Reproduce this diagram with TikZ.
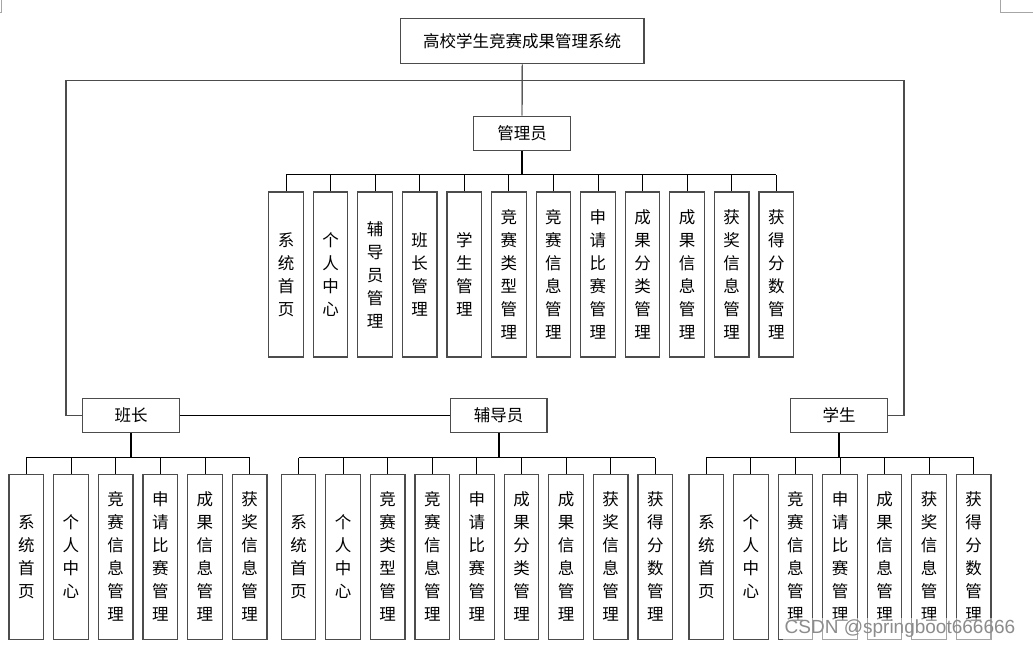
\documentclass[tikz,border=0pt]{standalone}
\usepackage{fontspec}
\newfontfamily\cjk{Noto Sans CJK SC}
\newfontfamily\wmfont{Liberation Sans}
\usetikzlibrary{calc}

\begin{document}
\begin{tikzpicture}[x=1pt,y=-1pt,
  box/.style={draw=black!70,line width=1.2pt,fill=white,inner sep=0pt,align=center,
    font=\cjk\fontsize{16.5}{23}\selectfont},
  head/.style={box,minimum width=96.6pt,minimum height=34.4pt},
  item/.style={box,minimum width=34.6pt,minimum height=165pt},
  link/.style={line width=0.9pt},
  stem/.style={line width=1.8pt},
  frame/.style={draw=black!70,line width=1.2pt},
  cropmark/.style={draw=black!35,line width=1pt}]
\useasboundingbox (0,0) rectangle (1033,650);

\coordinate (lt) at (66,80.5);
\coordinate (rt) at (904,80.5);
\coordinate (abus) at (0,174.7);
\coordinate (bbus) at (0,457.7);

\node[box,minimum width=243.7pt,minimum height=45pt] (sys) at (522.2,41.2) {高校学生竞赛成果管理系统};
\node[head] (admin) at (522,133.5) {管理员};
\node[head] (monitor) at (131,415.3) {班长};
\node[head] (tutor) at (498.7,415.3) {辅导员};
\node[head] (student) at (839.1,415.3) {学生};

\draw[link] (sys.south) -- (admin.north);
\draw[frame] (monitor.west) -| (lt) -- (rt) |- (student.east);
\draw[link] (monitor.east) -- (tutor.west);

% admin
\foreach \lbl [count=\i] in {{系\\统\\首\\页},{个\\人\\中\\心},{辅\\导\\员\\管\\理},{班\\长\\管\\理},{学\\生\\管\\理},{竞\\赛\\类\\型\\管\\理},{竞\\赛\\信\\息\\管\\理},{申\\请\\比\\赛\\管\\理},{成\\果\\分\\类\\管\\理},{成\\果\\信\\息\\管\\理},{获\\奖\\信\\息\\管\\理},{获\\得\\分\\数\\管\\理}}
  \node[item] (a\i) at ({286+(\i-1)*44.57},274.5) {\lbl};
\draw[stem] (admin.south) -- (admin.south |- abus);
\draw[link] (a1.north |- abus) -- (a12.north |- abus);
\foreach \i in {1,...,12}
  \draw[link] (a\i.north) -- (a\i.north |- abus);

% monitor
\foreach \lbl [count=\i] in {{系\\统\\首\\页},{个\\人\\中\\心},{竞\\赛\\信\\息\\管\\理},{申\\请\\比\\赛\\管\\理},{成\\果\\信\\息\\管\\理},{获\\奖\\信\\息\\管\\理}}
  \node[item] (b\i) at ({26.3+(\i-1)*44.67},556.8) {\lbl};
\draw[stem] (monitor.south) -- (monitor.south |- bbus);
\draw[link] (b1.north |- bbus) -- (b6.north |- bbus);
\foreach \i in {1,...,6}
  \draw[link] (b\i.north) -- (b\i.north |- bbus);

% tutor
\foreach \lbl [count=\i] in {{系\\统\\首\\页},{个\\人\\中\\心},{竞\\赛\\类\\型\\管\\理},{竞\\赛\\信\\息\\管\\理},{申\\请\\比\\赛\\管\\理},{成\\果\\分\\类\\管\\理},{成\\果\\信\\息\\管\\理},{获\\奖\\信\\息\\管\\理},{获\\得\\分\\数\\管\\理}}
  \node[item] (c\i) at ({298.5+(\i-1)*44.6},556.8) {\lbl};
\draw[stem] (tutor.south) -- (tutor.south |- bbus);
\draw[link] (c1.north |- bbus) -- (c9.north |- bbus);
\foreach \i in {1,...,9}
  \draw[link] (c\i.north) -- (c\i.north |- bbus);

% student
\foreach \lbl [count=\i] in {{系\\统\\首\\页},{个\\人\\中\\心},{竞\\赛\\信\\息\\管\\理},{申\\请\\比\\赛\\管\\理},{成\\果\\信\\息\\管\\理},{获\\奖\\信\\息\\管\\理},{获\\得\\分\\数\\管\\理}}
  \node[item] (d\i) at ({706.3+(\i-1)*44.57},556.8) {\lbl};
\draw[stem] (student.south) -- (student.south |- bbus);
\draw[link] (d1.north |- bbus) -- (d7.north |- bbus);
\foreach \i in {1,...,7}
  \draw[link] (d\i.north) -- (d\i.north |- bbus);

% page corners and watermark
\draw[cropmark] (0,12.3) -- (1,12.3) -- (1,0);
\draw[cropmark] (1000.3,0) -- (1000.3,12.3) -- (1033,12.3);
\node[font=\wmfont\fontsize{19}{19}\selectfont,text=black!45,fill=white,fill opacity=0.5,text opacity=1,inner sep=2pt] (wm) at (900,629) {CSDN @springboot666666};

\end{tikzpicture}
\end{document}
